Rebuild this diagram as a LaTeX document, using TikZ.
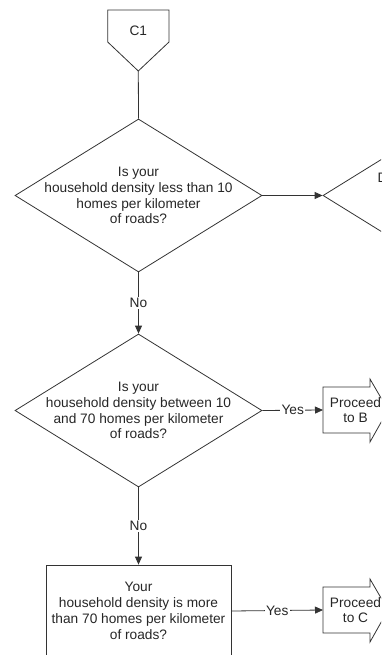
\documentclass[tikz,border=0pt]{standalone}
\usepackage{fontspec}
\setmainfont{Liberation Sans}
\usetikzlibrary{shapes.geometric,arrows.meta}

\begin{document}
\begin{tikzpicture}[x=1pt,y=-1pt,
	decision/.style={diamond, draw=black!80, line width=0.8pt, shape aspect=1.6, inner sep=-12pt, minimum width=247pt, minimum height=153pt, align=center, text=black!85, font=\fontsize{13.7}{15.8}\selectfont},
	square/.style={rectangle, draw=black!80, line width=0.8pt, align=center, text=black!85, font=\fontsize{13.7}{15.8}\selectfont},
	proceed/.style={rectangle, minimum width=65pt, minimum height=46pt, inner sep=0pt, outer sep=0pt, align=center, text=black!85, font=\fontsize{13.7}{15.8}\selectfont},
	answer/.style={fill=white, inner sep=1.5pt, text=black!85, font=\fontsize{13.7}{15.8}\selectfont},
	conn/.style={draw=black!80, line width=0.8pt},
	>={Triangle[length=8pt,width=7pt]}]
	
	\path[use as bounding box] (0,0) rectangle (381,655);
	\clip (0,0) rectangle (381,655);
	
	%Nodes
	\node[text=black!85, font=\fontsize{13.7}{15.8}\selectfont]	(c1)	at (138.3,31)	{C1};
	\coordinate	(c1tip)	at (138.3,71);
	\node[decision]	(q1)	at (138.5,195.5)	{Is your\\household density less than 10\\homes per kilometer\\of roads?};
	\node[decision]	(q2)	at (446.5,195.5)	{};
	\node[anchor=west, inner sep=0pt, text=black!85, font=\fontsize{13.7}{15.8}\selectfont]	(dtext)	at (377.3,177.5)	{D};
	\node[decision]	(q3)	at (138.5,410.5)	{Is your\\household density between 10\\and 70 homes per kilometer\\of roads?};
	\node[square, minimum width=185pt, minimum height=92pt]	(q4)	at (138.5,611)	{Your\\household density is more\\than 70 homes per kilometer\\of roads?};
	\node[proceed]	(procb)	at (355.5,410)	{Proceed\\to B};
	\node[proceed]	(procc)	at (355.5,610)	{Proceed\\to C};
	
	%Shapes
	\draw[conn] (107.7,10) -- (169,10) -- (169,42) -- (c1tip) -- (107.7,42) -- cycle;
	\foreach \p in {procb, procc}
		\draw[conn] (\p.north west) -- ++(47,0) -- ++(0,-8) -- (\p.east) -- ++(-18,32) -- ++(0,-9) -- (\p.south west) -- cycle;
	
	%Lines
	\draw[conn] (c1tip) -- (q1.north);
	\draw[conn, ->] (q1.east) -- (q2.west);
	\draw[conn, ->] (q1.south) -- node[answer] {No} (q3.north);
	\draw[conn, ->] (q3.east) -- node[answer] {Yes} (procb.west);
	\draw[conn, ->] (q3.south) -- node[answer] {No} (q4.north);
	\draw[conn, ->] (q4.east) -- node[answer] {Yes} (procc.west);
\end{tikzpicture}
\end{document}
